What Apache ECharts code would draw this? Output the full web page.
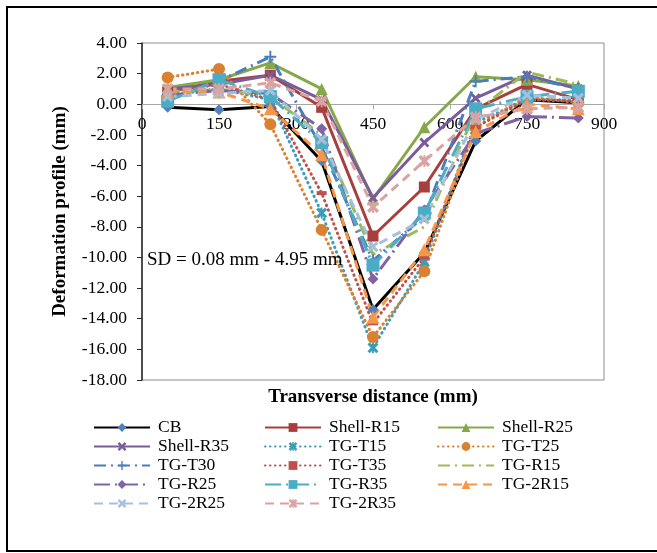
<!DOCTYPE html>
<html>
<head>
<meta charset="utf-8">
<script src="https://cdn.jsdelivr.net/npm/echarts@6/dist/echarts.min.js"></script>
<style>html,body{margin:0;padding:0;background:#fff}#c{width:657px;height:553px}</style>
</head>
<body>
<div id="c"></div>
<script>
// Data
var xValues = [50, 150, 250, 350, 450, 550, 650, 750, 850];
var CB        = [-0.2, -0.35, -0.15, -3.7, -13.4, -9.7, -2.4, 0.3, 0.1];
var ShellR15  = [0.8, 1.5, 1.9, -0.2, -8.6, -5.4, -0.3, 1.3, 0.3];
var ShellR25  = [1.1, 1.6, 2.7, 1.0, -6.2, -1.5, 1.8, 1.6, 1.2];
var ShellR35  = [1.0, 1.3, 1.9, 0.3, -6.1, -2.5, 0.4, 1.9, 1.0];
var TGT15     = [0.6, 1.0, 0.3, -7.1, -15.9, -10.3, -1.2, 0.3, 0.3];
var TGT25     = [1.75, 2.3, -1.3, -8.2, -15.2, -10.9, -1.5, 0.5, 0.1];
var TGT30     = [0.5, 1.5, 3.1, -2.8, -10.2, -7.3, 1.5, 1.8, 1.0];
var TGT35     = [0.8, 1.3, 0.3, -5.8, -14.3, -10.0, -1.5, 0.3, 0.2];
var TGR15     = [0.8, 1.0, 0.5, -2.0, -9.8, -8.0, -0.5, 2.1, 1.3];
var TGR25     = [0.6, 0.9, 0.7, -1.6, -11.4, -6.9, -1.9, -0.8, -0.9];
var TGR35     = [0.2, 1.6, 0.5, -2.5, -10.5, -7.1, -0.3, 0.5, 0.85];
var TG2R15    = [0.8, 0.8, -0.3, -3.3, -13.9, -9.5, -1.8, 0.0, -0.3];
var TG2R25    = [0.5, 0.7, 0.9, -2.3, -9.3, -7.5, -1.0, 0.6, 0.4];
var TG2R35    = [1.0, 1.0, 1.4, 0.2, -6.7, -3.7, -0.85, -0.3, -0.2];
var yTicks = {min: -18, max: 4, interval: 2};
var xTicks = {min: 0, max: 900, interval: 150};

var SYM_X = 'path://M2,0L5,3L8,0L10,2L7,5L10,8L8,10L5,7L2,10L0,8L3,5L0,2Z';
var SYM_AST = 'path://M2,0L5,3L8,0L10,2L7,5L10,8L8,10L5,7L2,10L0,8L3,5L0,2Z M4.2,0H5.8V10H4.2Z';
var SYM_PLUS = 'path://M4.2,0H5.8V4.2H10V5.8H5.8V10H4.2V5.8H0V4.2H4.2Z';

function pairs(arr){ return arr.map(function(v,i){ return [xValues[i], v]; }); }
function mk(name, data, color, type, symbol, size, width, symColor){
  return {
    name: name, type: 'line', data: pairs(data),
    symbol: symbol, symbolSize: size, showSymbol: symbol !== 'none',
    lineStyle: {color: color, width: width, type: type, cap: 'butt'},
    itemStyle: {color: symColor || color, borderColor: symColor || color, borderWidth: 0},
    emphasis: {disabled: true}, animation: false
  };
}
var DOT = [0.5, 4.5];
var DASHDOT = [12, 5, 2, 5];
var LDASHDOT = [16, 5, 2, 5];
var DASH = [9, 6];

var series = [
  mk('CB', CB, '#000000', 'solid', 'diamond', 11, 3, '#4F81BD'),
  mk('Shell-R15', ShellR15, '#A83F3C', 'solid', 'rect', 11, 3),
  mk('Shell-R25', ShellR25, '#86A84A', 'solid', 'triangle', 12, 3),
  mk('Shell-R35', ShellR35, '#7A5C9C', 'solid', SYM_X, 10, 3),
  mk('TG-T15', TGT15, '#3C9DB8', DOT, SYM_AST, 11, 3),
  mk('TG-T25', TGT25, '#D98031', DOT, 'circle', 12, 3),
  mk('TG-T30', TGT30, '#4A7EBB', DASHDOT, SYM_PLUS, 12, 3),
  mk('TG-T35', TGT35, '#C0504D', DOT, 'rect', [10, 4], 3),
  mk('TG-R15', TGR15, '#9BBB59', DASHDOT, 'none', 1, 3),
  mk('TG-R25', TGR25, '#8064A2', LDASHDOT, 'diamond', 11, 3),
  mk('TG-R35', TGR35, '#4BACC6', LDASHDOT, 'rect', 13, 3),
  mk('TG-2R15', TG2R15, '#F79646', DASH, 'triangle', 13, 3),
  mk('TG-2R25', TG2R25, '#A5BFDD', DASH, SYM_X, 11, 3),
  mk('TG-2R35', TG2R35, '#D9A3A1', DASH, SYM_AST, 12, 3)
];
[4, 5, 7].forEach(function(i){ series[i].lineStyle.cap = 'round'; });

var col1 = ['CB', 'Shell-R35', 'TG-T30', 'TG-R25', 'TG-2R25'];
var col2 = ['Shell-R15', 'TG-T15', 'TG-T35', 'TG-R35', 'TG-2R35'];
var col3 = ['Shell-R25', 'TG-T25', 'TG-R15', 'TG-2R15'];
function lg(data, left){
  return {
    data: data.map(function(n){
      return n === 'TG-R15' ? {name: n, itemStyle: {color: 'rgba(0,0,0,0)', borderColor: 'rgba(0,0,0,0)', opacity: 0}} : n;
    }),
    orient: 'vertical', left: left, top: 413, itemWidth: 56, itemHeight: 11, itemGap: 0,
    selectedMode: false,
    textStyle: {fontFamily: 'Liberation Serif', fontSize: 17.5, color: '#000', lineHeight: 19, padding: [0, 0, 0, 3]}
  };
}

var gridTop = 43, gridBottom = 173, chartH = 553;
var gridH = chartH - gridTop - gridBottom;
// place the x axis on y = 0 (distance up from the bottom edge of the grid)
var zeroOffset = -gridH * (0 - yTicks.min) / (yTicks.max - yTicks.min);

var serif = 'Liberation Serif';
var option = {
  backgroundColor: '#fff',
  animation: false,
  grid: {left: 142, right: 53, top: gridTop, bottom: gridBottom, show: true, borderColor: '#8C8C8C', borderWidth: 1},
  xAxis: {
    type: 'value', min: xTicks.min, max: xTicks.max, interval: xTicks.interval,
    position: 'bottom', offset: zeroOffset,
    axisLine: {show: true, onZero: false, lineStyle: {color: '#A6A6A6', width: 1}},
    axisTick: {show: true, length: 5, lineStyle: {color: '#A6A6A6'}},
    axisLabel: {fontFamily: serif, fontSize: 17.5, color: '#000', margin: 11},
    splitLine: {show: false}
  },
  yAxis: {
    type: 'value', min: yTicks.min, max: yTicks.max, interval: yTicks.interval,
    name: 'Deformation profile (mm)', nameLocation: 'middle', nameGap: 72, nameRotate: 90,
    nameTextStyle: {fontFamily: serif, fontSize: 19, fontWeight: 'bold', color: '#000'},
    axisLine: {show: true, onZero: false, lineStyle: {color: '#262626', width: 1.5}},
    axisTick: {show: true, length: 5, lineStyle: {color: '#262626'}},
    axisLabel: {fontFamily: serif, fontSize: 17.5, color: '#000', margin: 15,
      formatter: function(v){ return v.toFixed(2); }},
    splitLine: {show: false}
  },
  legend: [lg(col1, 88), lg(col2, 259), lg(col3, 432)],
  series: series,
  graphic: [
    {type: 'rect', shape: {x: 7, y: 7, width: 700, height: 544}, style: {fill: 'none', stroke: '#000', lineWidth: 2}, silent: true},
    {type: 'text', left: 147, top: 251, z: 100, style: {text: 'SD = 0.08 mm - 4.95 mm', fontFamily: serif, fontSize: 19, fill: '#000'}},
    {type: 'text', x: 373, y: 397, z: 100, style: {text: 'Transverse distance (mm)', fontFamily: serif, fontSize: 19, fontWeight: 'bold', fill: '#000', align: 'center', verticalAlign: 'middle'}}
  ]
};
var chart = echarts.init(document.getElementById('c'), null, {renderer: 'canvas'});
chart.setOption(option);
</script>
</body>
</html>
